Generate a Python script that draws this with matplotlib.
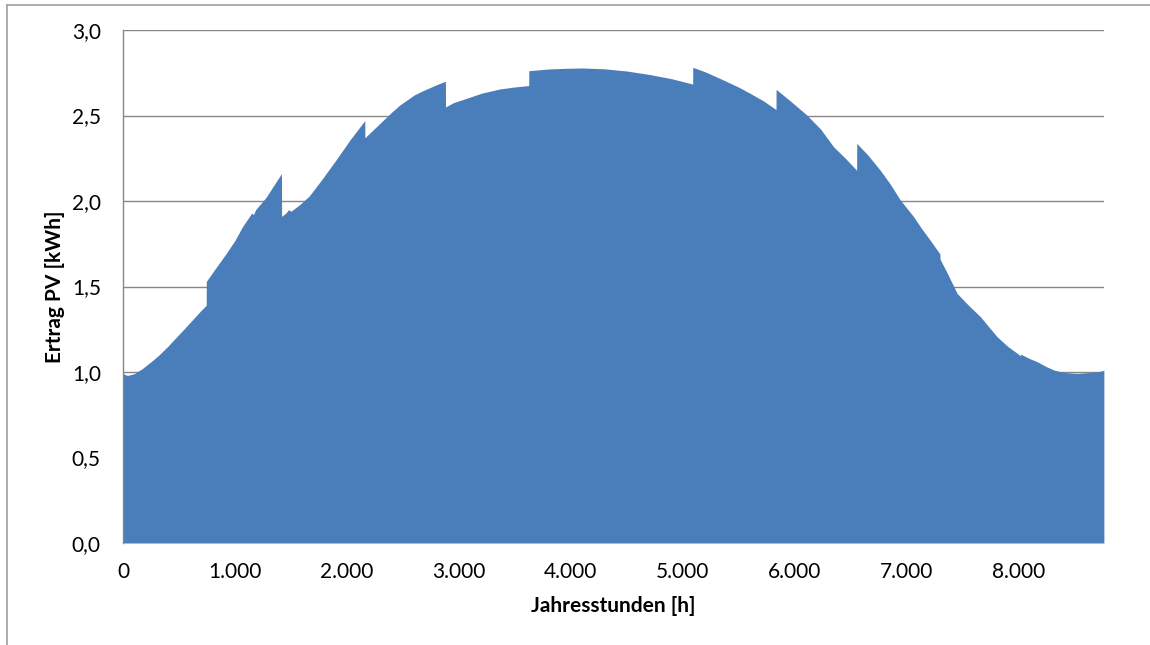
import matplotlib
matplotlib.use("Agg")
import matplotlib.pyplot as plt
from matplotlib.lines import Line2D

# Upper envelope of hourly PV yield (hour of year, kWh); repeated hours mark monthly jumps
hours = [0, 40, 100, 173, 250, 322, 400, 471, 550, 620, 690, 743,
         744, 830, 918, 1000, 1067, 1150, 1165, 1185, 1276, 1345, 1415,
         1416, 1455, 1480, 1500, 1580, 1664, 1780, 1902, 2030, 2159,
         2160, 2240, 2320, 2400, 2469, 2600, 2678, 2800, 2879,
         2880, 2950, 3065, 3200, 3363, 3500, 3623,
         3624, 3800, 3960, 4100, 4300, 4500, 4700, 4900, 5087,
         5088, 5200, 5360, 5500, 5599, 5720, 5831,
         5832, 5950, 6106, 6230, 6344, 6450, 6551,
         6552, 6650, 6762, 6850, 6941, 7060, 7130, 7209, 7295,
         7296, 7359, 7448, 7550, 7657, 7730, 7806, 7900, 8015,
         8016, 8090, 8164, 8240, 8312, 8380, 8432, 8520, 8611, 8700, 8759]
values = [0.99, 0.98, 0.99, 1.02, 1.06, 1.10, 1.15, 1.20, 1.255, 1.305, 1.355, 1.39,
          1.53, 1.61, 1.69, 1.77, 1.85, 1.93, 1.92, 1.95, 2.02, 2.09, 2.16,
          1.91, 1.93, 1.95, 1.94, 1.98, 2.03, 2.13, 2.24, 2.36, 2.47,
          2.37, 2.42, 2.47, 2.52, 2.56, 2.62, 2.645, 2.68, 2.70,
          2.55, 2.575, 2.60, 2.63, 2.655, 2.667, 2.675,
          2.762, 2.772, 2.776, 2.778, 2.773, 2.76, 2.74, 2.715, 2.684,
          2.782, 2.755, 2.708, 2.665, 2.63, 2.585, 2.535,
          2.653, 2.59, 2.503, 2.42, 2.318, 2.25, 2.18,
          2.337, 2.27, 2.18, 2.10, 2.006, 1.908, 1.84, 1.77, 1.69,
          1.66, 1.58, 1.46, 1.39, 1.323, 1.265, 1.206, 1.15, 1.095,
          1.105, 1.08, 1.06, 1.033, 1.012, 1.0, 0.996, 0.992, 0.996, 1.0, 1.01]

x_ticks = [0, 1000, 2000, 3000, 4000, 5000, 6000, 7000, 8000]
x_ticklabels = ["0", "1.000", "2.000", "3.000", "4.000", "5.000", "6.000", "7.000", "8.000"]
y_ticks = [0.0, 0.5, 1.0, 1.5, 2.0, 2.5, 3.0]
y_ticklabels = ["0,0", "0,5", "1,0", "1,5", "2,0", "2,5", "3,0"]

plt.rcParams['font.family'] = ['Lato', 'DejaVu Sans']

W, H = 1150, 645
fig = plt.figure(figsize=(W / 100, H / 100), dpi=100)
ax = fig.add_axes([123 / W, 1 - 543 / H, 981 / W, 513 / H])

ax.fill_between(hours, 0, values, color="#4A7EBB", linewidth=0, zorder=2)

ax.set_xlim(0, 8760)
ax.set_ylim(0, 3.0)
ax.set_xticks(x_ticks)
ax.set_xticklabels(x_ticklabels)
ax.set_yticks(y_ticks)
ax.set_yticklabels(y_ticklabels)
ax.tick_params(axis="both", length=0, labelsize=15, colors="black")
ax.tick_params(axis="x", pad=14)
ax.tick_params(axis="y", pad=16)

ax.grid(axis="y", color="#868686", linewidth=1.0, zorder=1)
ax.set_axisbelow(True)
for s in ["top", "right", "bottom"]:
    ax.spines[s].set_visible(False)
ax.spines["left"].set_color("#868686")
ax.spines["left"].set_linewidth(1.0)

ax.set_xlabel("Jahresstunden [h]", fontsize=15, fontweight="bold", labelpad=10)
ax.set_ylabel("Ertrag PV [kWh]", fontsize=15, fontweight="bold", labelpad=5)

# chart-area border (left and top edges visible)
fig.add_artist(Line2D([7 / W, 7 / W], [0, 1 - 5 / H], transform=fig.transFigure,
                      color="#A0A0A0", linewidth=1.2))
fig.add_artist(Line2D([7 / W, 1], [1 - 5 / H, 1 - 5 / H], transform=fig.transFigure,
                      color="#A0A0A0", linewidth=1.2))

fig.savefig("out.png", dpi=100)
